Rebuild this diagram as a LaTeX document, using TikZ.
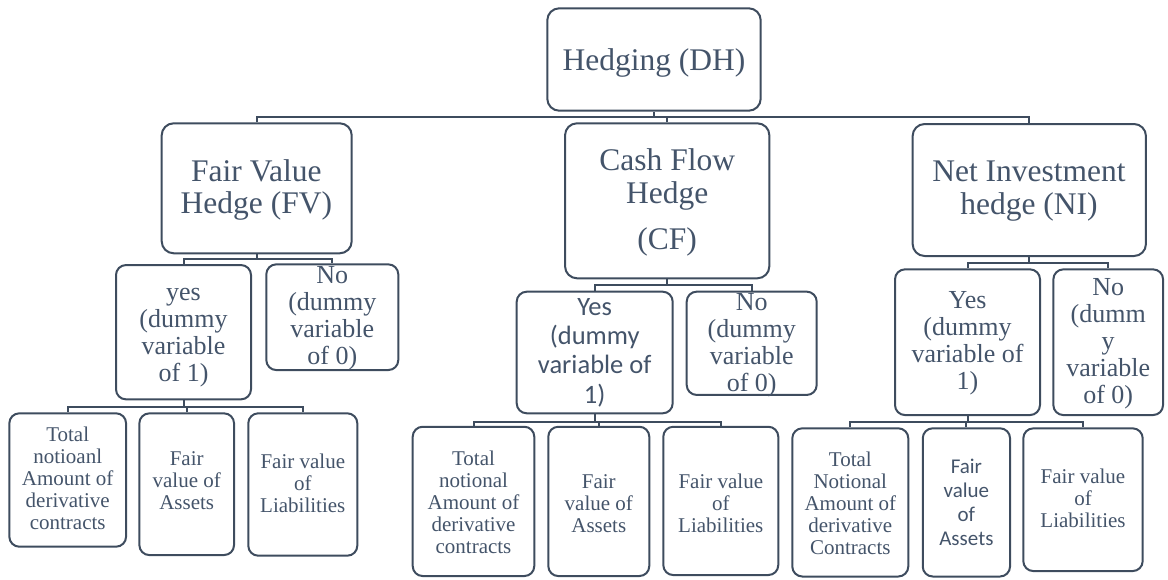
\documentclass[tikz,border=0pt]{standalone}
\usepackage{fontspec}
\setmainfont{Liberation Serif}
\newfontfamily\calibrifont{Carlito}
\definecolor{linec}{HTML}{3E4C5E}
\definecolor{textc}{HTML}{44546A}
\tikzset{
  box/.style={draw=linec, line width=2pt, rectangle, rounded corners=10pt, inner sep=0pt},
  bigbox/.style={box, rounded corners=12pt},
  conn/.style={draw=linec, line width=2pt},
  txt/.style={text=textc, align=center, inner sep=0pt, anchor=north},
  bigtxt/.style={txt, font=\fontsize{31.5}{32.5}\selectfont},
  midtxt/.style={txt, font=\fontsize{26}{27}\selectfont},
  midsans/.style={txt, font=\calibrifont\fontsize{26.5}{29.4}\selectfont},
  leaftxt/.style={txt, font=\fontsize{21}{22}\selectfont},
  leafsans/.style={txt, font=\calibrifont\fontsize{21}{23.9}\selectfont},
}
\begin{document}
\begin{tikzpicture}[x=1pt, y=-1pt]
\useasboundingbox (0,0) rectangle (1168,579);

% ---- boxes ----
\node[bigbox, minimum width=213.4pt, minimum height=102.4pt] (dh) at (654,59.5) {};
\node[bigbox, minimum width=190pt,   minimum height=130pt]   (fv) at (256.7,188.3) {};
\node[bigbox, minimum width=204.3pt, minimum height=155pt]   (cf) at (667.2,200.8) {};
\node[bigbox, minimum width=233.3pt, minimum height=132pt]   (ni) at (1029.3,190) {};

\node[box, minimum width=135pt,   minimum height=134.3pt] (fvyes) at (183.5,332.2) {};
\node[box, minimum width=132pt,   minimum height=105.7pt] (fvno)  at (332.3,317.2) {};
\node[box, minimum width=156pt,   minimum height=121.6pt] (cfyes) at (594.7,352.5) {};
\node[box, minimum width=130pt,   minimum height=103.3pt] (cfno)  at (751.7,343.3) {};
\node[box, minimum width=145pt,   minimum height=145.7pt] (niyes) at (967.5,342.2) {};
\node[box, minimum width=109.7pt, minimum height=145.7pt] (nino)  at (1108.2,342.2) {};

\node[box, minimum width=116.7pt, minimum height=133.4pt] (fvl1) at (67.7,480) {};
\node[box, minimum width=94.7pt,  minimum height=141.7pt] (fvl2) at (186.7,484.2) {};
\node[box, minimum width=109pt,   minimum height=142.4pt] (fvl3) at (302.8,484.5) {};
\node[box, minimum width=121.6pt, minimum height=149.3pt] (cfl1) at (473.5,501.4) {};
\node[box, minimum width=101pt,   minimum height=149.3pt] (cfl2) at (598.8,501.4) {};
\node[box, minimum width=115pt,   minimum height=148.3pt] (cfl3) at (720.8,500.9) {};
\node[box, minimum width=116pt,   minimum height=148.2pt] (nil1) at (850.3,502.4) {};
\node[box, minimum width=87.3pt,  minimum height=148.2pt] (nil2) at (966.4,502.4) {};
\node[box, minimum width=119.4pt, minimum height=142.7pt] (nil3) at (1083,499.7) {};

% ---- bus levels ----
\coordinate (bus0) at (0,117.3);
\coordinate (busfv) at (0,259);
\coordinate (buscf) at (0,284.8);
\coordinate (busni) at (0,263.3);
\coordinate (busfvl) at (0,406.7);
\coordinate (buscfl) at (0,421.7);
\coordinate (busnil) at (0,422.3);

% ---- connectors ----
\draw[conn] (dh.south) -- (dh.south |- bus0);
\draw[conn] (fv.north) |- (ni.north |- bus0) -- (ni.north);
\draw[conn] (cf.north) -- (cf.north |- bus0);

\draw[conn] (fv.south) -- (fv.south |- busfv);
\draw[conn] (fvyes.north) |- (fvno.north |- busfv) -- (fvno.north);
\draw[conn] (cf.south) -- (cf.south |- buscf);
\draw[conn] (cfyes.north) |- (cfno.north |- buscf) -- (cfno.north);
\draw[conn] (ni.south) -- (ni.south |- busni);
\draw[conn] (niyes.north) |- (nino.north |- busni) -- (nino.north);

\draw[conn] (fvyes.south) -- (fvyes.south |- busfvl);
\draw[conn] (fvl1.north) |- (fvl3.north |- busfvl) -- (fvl3.north);
\draw[conn] (fvl2.north) -- (fvl2.north |- busfvl);
\draw[conn] (cfyes.south) -- (cfyes.south |- buscfl);
\draw[conn] (cfl1.north) |- (cfl3.north |- buscfl) -- (cfl3.north);
\draw[conn] (cfl2.north) -- (cfl2.north |- buscfl);
\draw[conn] (niyes.south) -- (niyes.south |- busnil);
\draw[conn] (nil1.north) |- (nil3.north |- busnil) -- (nil3.north);
\draw[conn] (nil2.north) -- (nil2.north |- busnil);

% ---- texts ----
\node[bigtxt] (dh-t) at (654,47.25) {\strut Hedging (DH)};
\node[bigtxt] (fv-t) at (256.4,158.25) {\strut Fair Value\\Hedge (FV)};
\node[bigtxt] (cf-t) at (667.2,147.95) {\strut Cash Flow\\Hedge\\[14pt](CF)};
\node[bigtxt] (ni-t) at (1029,158.95) {\strut Net Investment\\hedge (NI)};

\node[midtxt]  (fvyes-t) at (183.5,281.1) {\strut yes\\(dummy\\variable\\of 1)};
\node[midtxt]  (fvno-t)  at (332.3,264.1) {\strut No\\(dummy\\variable\\of 0)};
\node[midsans] (cfyes-t) at (594.7,294.4) {\strut Yes\\(dummy\\variable of\\1)};
\node[midtxt]  (cfno-t)  at (751.7,291.1) {\strut No\\(dummy\\variable\\of 0)};
\node[midtxt]  (niyes-t) at (967.5,289.4) {\strut Yes\\(dummy\\variable of\\1)};
\node[midtxt]  (nino-t)  at (1108.2,276.1) {\strut No\\(dumm\\y\\variable\\of 0)};

\node[leaftxt]  (fvl1-t) at (67.7,426.3)  {\strut Total\\notioanl\\Amount of\\derivative\\contracts};
\node[leaftxt]  (fvl2-t) at (186.7,449.6) {\strut Fair\\value of\\Assets};
\node[leaftxt]  (fvl3-t) at (302.8,452.6) {\strut Fair value\\of\\Liabilities};
\node[leaftxt]  (cfl1-t) at (473.5,449.6) {\strut Total\\notional\\Amount of\\derivative\\contracts};
\node[leaftxt]  (cfl2-t) at (598.8,472.9) {\strut Fair\\value of\\Assets};
\node[leaftxt]  (cfl3-t) at (720.8,472.9) {\strut Fair value\\of\\Liabilities};
\node[leaftxt]  (nil1-t) at (850.3,451.3) {\strut Total\\Notional\\Amount of\\derivative\\Contracts};
\node[leafsans] (nil2-t) at (966.4,456.6) {\strut Fair\\value\\of\\Assets};
\node[leaftxt]  (nil3-t) at (1083,467.9)  {\strut Fair value\\of\\Liabilities};
\end{tikzpicture}
\end{document}
